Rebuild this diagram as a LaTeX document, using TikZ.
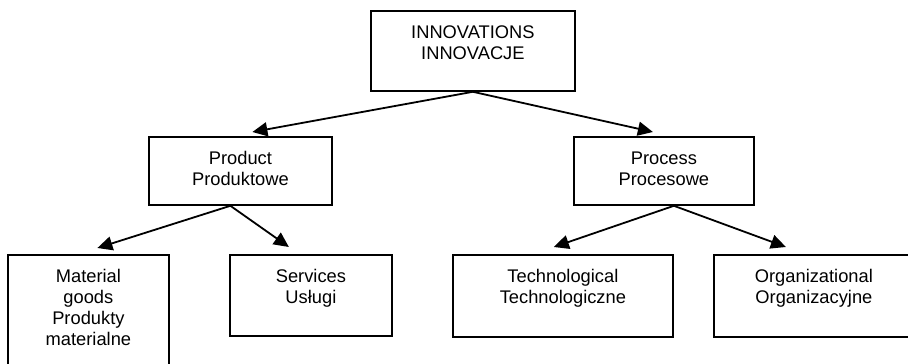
\documentclass[tikz,border=0pt]{standalone}
\usepackage{fontspec}
\setmainfont{Liberation Sans}
\usetikzlibrary{arrows.meta}

% text sits at the top of each box
\newcommand{\boxtext}[3]{\parbox[c][#1][t]{#2}{\centering\rule{0pt}{28pt}#3}}

\begin{document}
\begin{tikzpicture}[x=1pt, y=-1pt, font=\fontsize{18.3}{21}\selectfont,
    block/.style={draw, line width=1.8pt, inner sep=0pt, anchor=north west},
    arrow/.style={-{Triangle[length=15pt, width=14pt]}, line width=1.8pt}]
    \useasboundingbox (0,0) rectangle (908,364);
    \node[block] (innov) at (370,10)  {\boxtext{80pt}{204pt}{INNOVATIONS\\INNOVACJE}};
    \node[block] (prod)  at (148,136) {\boxtext{68pt}{183pt}{Product\\Produktowe}};
    \node[block] (proc)  at (573,136) {\boxtext{68pt}{180pt}{Process\\Procesowe}};
    \node[block] (mat)   at (7,254)   {\boxtext{122pt}{161pt}{Material\\goods\\Produkty\\materialne}};
    \node[block] (serv)  at (229,254) {\boxtext{81pt}{162pt}{Services\\Usługi}};
    \node[block] (tech)  at (452,254) {\boxtext{82pt}{220pt}{Technological\\Technologiczne}};
    \node[block] (org)   at (713,254) {\boxtext{82pt}{200pt}{Organizational\\Organizacyjne}};
	\path[arrow]
	(innov.south) edge ([xshift=12pt, yshift=4pt]prod.north)
	(innov.south) edge ([xshift=-11pt, yshift=4pt]proc.north)
	([xshift=-10pt]prod.south) edge ([xshift=9pt, yshift=6pt]mat.north)
	([xshift=-10pt]prod.south) edge ([xshift=-22pt, yshift=7pt]serv.north)
	([xshift=10pt]proc.south) edge ([xshift=-9pt, yshift=7pt]tech.north)
	([xshift=10pt]proc.south) edge ([xshift=-28pt, yshift=7pt]org.north);
\end{tikzpicture}
\end{document}
